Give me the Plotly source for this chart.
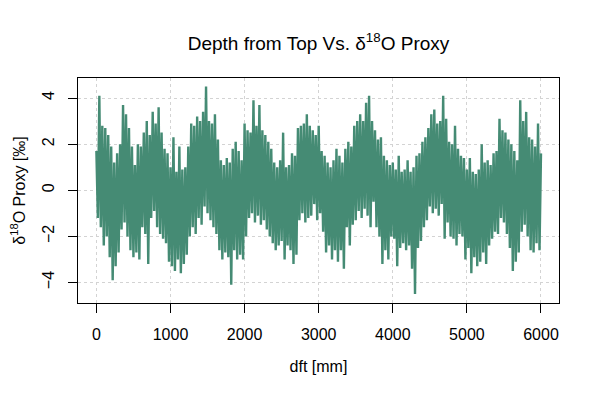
import plotly.graph_objects as go

# upper swings of the proxy, one every 40 mm from 0 to 6000 mm
hi_vals = [
    1.7, 4.1, 2.8, 2.7, 2.4, 1.9, 1.2, 1.6, 2.0, 3.7,
    3.3, 2.7, 1.9, 1.1, 2.0, 1.9, 2.5, 3.0, 2.4, 3.4,
    2.9, 3.6, 2.5, 1.8, 1.6, 1.0, 2.3, 0.8, 1.9, 0.9,
    1.0, 1.9, 2.9, 2.8, 3.2, 3.0, 3.4, 4.5, 3.0, 2.9,
    3.3, 2.2, 1.3, 1.1, 1.4, 1.2, 1.8, 2.1, 1.7, 1.3,
    2.9, 2.6, 2.5, 3.9, 2.8, 3.7, 2.6, 2.4, 2.1, 1.8,
    1.2, 1.0, 1.3, 2.5, 1.0, 1.1, 1.6, 1.5, 2.7, 2.8,
    2.9, 3.3, 2.8, 2.6, 2.4, 2.8, 1.7, 1.5, 1.2, 1.0,
    1.3, 1.8, 1.5, 1.2, 1.8, 2.1, 1.9, 2.8, 3.0, 3.3,
    3.0, 3.8, 4.1, 3.0, 2.6, 2.2, 2.3, 1.5, 1.3, 1.1,
    1.2, 0.9, 1.5, 0.8, 0.9, 1.3, 0.8, 1.0, 1.5, 1.6,
    2.1, 2.3, 2.7, 3.3, 3.5, 2.9, 3.0, 4.1, 3.1, 2.1,
    2.0, 2.8, 1.8, 1.5, 1.4, 0.9, 1.4, 0.8, 0.7, 0.9,
    2.0, 1.2, 1.3, 1.1, 1.6, 1.7, 3.1, 2.6, 2.5, 2.2,
    2.0, 1.7, 1.3, 3.9, 3.0, 3.4, 2.3, 2.2, 1.9, 2.9,
    1.6,
]

# lower swings, one every 40 mm from 20 to 5980 mm
lo_vals = [
    -1.2, -1.6, -2.4, -2.0, -2.9, -3.9, -3.3, -2.7, -1.7, -1.4,
    -2.0, -2.6, -2.9, -2.7, -3.0, -1.6, -1.9, -3.2, -1.2, -0.9,
    -1.6, -1.9, -2.1, -2.3, -3.1, -3.3, -3.5, -3.0, -3.6, -3.2,
    -2.8, -2.0, -1.6, -1.9, -1.2, -1.5, -0.7, -1.0, -1.3, -1.6,
    -1.9, -2.6, -3.0, -2.7, -2.9, -4.1, -2.6, -3.0, -2.8, -3.0,
    -2.0, -1.2, -1.0, -1.4, -1.1, -1.5, -1.3, -1.7, -2.0, -2.3,
    -2.6, -2.4, -2.2, -3.0, -2.4, -2.6, -3.2, -2.8, -1.3, -1.0,
    -1.4, -1.2, -1.1, -0.6, -1.3, -1.0, -1.8, -2.7, -2.4, -3.0,
    -2.6, -3.1, -2.6, -3.4, -1.6, -2.4, -1.5, -1.3, -0.9, -1.2,
    -0.8, -1.1, -1.6, -0.5, -1.6, -2.0, -3.2, -2.6, -3.0, -2.0,
    -2.1, -3.3, -2.5, -2.3, -2.6, -2.4, -3.4, -4.5, -2.5, -2.2,
    -1.6, -1.3, -0.7, -1.0, -0.8, -1.1, -0.6, -2.1, -1.4, -2.0,
    -2.1, -2.4, -1.9, -2.0, -3.0, -2.5, -3.6, -2.9, -3.3, -3.1,
    -2.7, -3.2, -2.4, -2.1, -1.8, -1.9, -1.2, -1.4, -1.9, -2.5,
    -3.5, -3.1, -2.7, -1.8, -1.5, -2.0, -2.6, -2.7, -2.3, -2.6,
]

hi_depth = list(range(0, 6001, 40))
lo_depth = list(range(20, 6000, 40))

x_ticks = [0, 1000, 2000, 3000, 4000, 5000, 6000]
y_ticks = [-4, -2, 0, 2, 4]

green = "#458B74"

# interleave up / down samples into one depth series
depth, proxy = [], []
for i in range(len(hi_vals)):
    depth.append(hi_depth[i])
    proxy.append(hi_vals[i])
    if i < len(lo_vals):
        depth.append(lo_depth[i])
        proxy.append(lo_vals[i])

font = dict(family="Liberation Sans, Arial, sans-serif", size=16, color="black")

fig = go.Figure()
fig.add_trace(go.Scatter(x=depth, y=proxy, mode="lines",
                         line=dict(color=green, width=2.4, simplify=False),
                         showlegend=False, hoverinfo="skip"))

axis_common = dict(
    showline=True, linecolor="black", linewidth=1, mirror=True,
    ticks="outside", ticklen=9, tickcolor="black", tickwidth=1,
    showgrid=True, gridcolor="#D3D3D3", griddash="dot", gridwidth=1,
    zeroline=False, layer="above traces", tickfont=font, automargin=False,
)

fig.update_xaxes(range=[-248, 6243], tickvals=x_ticks,
                 title=dict(text="dft [mm]", font=font, standoff=18),
                 ticklabelstandoff=8, **axis_common)
fig.update_yaxes(range=[-4.89, 4.87], tickvals=y_ticks, tickangle=-90,
                 title=dict(text="δ<sup>18</sup>O Proxy [‰]", font=font, standoff=14),
                 ticklabelstandoff=8, **axis_common)

# page body keeps its 8 px margin, so the figure is 8 px smaller
fig.update_layout(
    width=592, height=392,
    margin=dict(l=70, r=41, t=70, b=97),
    paper_bgcolor="white", plot_bgcolor="white",
    font=font,
    title=dict(text="Depth from Top Vs. δ<sup>18</sup>O Proxy",
               x=0.5, xref="paper", xanchor="center",
               y=1 - 35 / 392, yref="container", yanchor="middle",
               font=dict(family="Liberation Sans, Arial, sans-serif", size=19, color="black")),
)

fig.write_html("out.html")
